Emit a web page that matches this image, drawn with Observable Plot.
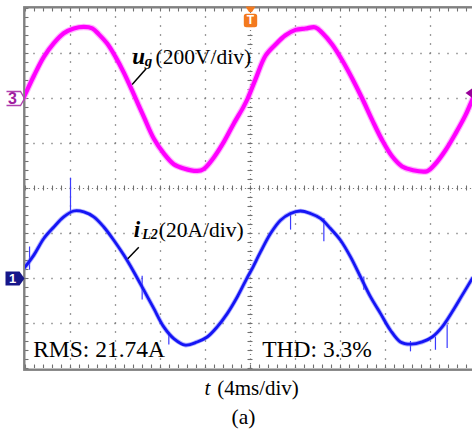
<!DOCTYPE html>
<html><head><meta charset="utf-8">
<script src="https://cdn.jsdelivr.net/npm/d3@7"></script>
<script src="https://cdn.jsdelivr.net/npm/@observablehq/plot@0.6"></script>
<style>html,body{margin:0;padding:0;background:#fff;} #chart svg{display:block;}</style>
</head><body><div id="chart"></div>
<script>
// ---- Scope settings ----
const msPerDiv = 4, voltPerDiv = 200, ampPerDiv = 20;
const ch3Offset = 2, ch1Offset = -2;      // channel zero levels, in divisions
const xMax = 39.733;                       // visible time span (ms)

// ---- Grid voltage u_g (ms, V) ----
const ugTime = [-0.2,0.74,1.63,2.52,3.40,4.29,5.18,5.93,6.52,7.26,8.0,8.74,9.63,10.52,11.4,12.29,13.18,14.07,15.26,15.85,16.74,17.63,18.52,19.4,19.75,20.44,21.33,22.22,23.11,24.0,24.89,25.78,26.37,27.26,28.15,29.04,29.93,30.82,31.7,32.6,33.48,34.37,35.7,36.44,37.33,38.22,39.11,39.7,40.0];
const ugVolt = [0,100,185,246,290,311,318,312,285,244,185,115,18,-82,-178,-244,-292,-311,-322,-313,-262,-193,-111,-35,0,85,190,240,281,305,311,316,292,240,170,89,0,-96,-185,-258,-302,-318,-323,-290,-230,-156,-74,-7,25];

// ---- Inductor current i_L2 (ms, A) ----
const iL2Time = [-0.15,0.74,1.63,2.52,3.40,4.29,5.18,6.07,6.96,7.85,8.74,9.63,10.52,11.40,12.29,13.18,14.22,15.26,16.15,17.04,17.93,18.82,19.71,20.15,20.89,21.78,22.67,23.56,24.44,25.33,26.22,27.11,28.0,28.89,29.78,30.67,31.56,32.44,33.33,34.22,35.26,36.15,37.04,37.93,38.82,39.71];
const iL2Amp = [4.4,10.4,17.8,22.9,27.4,30.0,29.6,27.4,22.9,17.0,10.4,2.9,-5.2,-13.3,-21.5,-26.7,-29.6,-28.2,-26.0,-21.5,-15.6,-8.2,0.4,4.4,11.8,20.0,25.9,28.9,30.0,28.9,26.7,22.2,17.0,9.6,0.7,-8.2,-15.6,-23.0,-28.2,-29.2,-28.2,-26.0,-21.5,-14.8,-7.4,0];

// ---- Switching spikes on i_L2 (ms, A from, A to) ----
const spikeTime = [0.36,4.0,10.37,12.74,23.56,26.52,30.07,34.22,36.44,37.48];
const spikeFrom = [14,29.6,1,-24,28.5,26.7,0.7,-28,-26,-20.7];
const spikeTo   = [3.7,44.6,-9.6,-29.6,21.5,16.3,-5.2,-32.6,-31.9,-31.1];

// ---- Texts ----
const rmsText = "RMS: 21.74A";
const thdText = "THD: 3.3%";
const ugUnit = "(200V/div)";
const iUnit = "(20A/div)";
const timeUnit = "(4ms/div)";
const caption = "(a)";
const triggerLevelV = 24;

// ---- Tables ----
const ugData = ugTime.map((t, i) => ({t, v: ugVolt[i]}));
const iData = iL2Time.map((t, i) => ({t, a: iL2Amp[i]}));
const spikes = spikeTime.map((t, i) => ({t, a1: spikeFrom[i], a2: spikeTo[i]}));

const pxX = 1 / 11.25, pxY = 1 / 45;  // one pixel in ms / in divisions
const majorX = d3.range(msPerDiv, xMax, msPerDiv).filter(v => v !== 20);
const majorY = [-3, -1, 1, 3, -2, 2];
const minorX = d3.range(0, xMax, msPerDiv / 5);
const minorY = d3.range(-4, 4.001, 0.2);

const serif = "Liberation Serif, Times New Roman, serif";
const sans = "Liberation Sans, Arial, sans-serif";

const openArrow = {draw(c){ c.moveTo(-19,-7); c.lineTo(-5,-7); c.lineTo(-1,0); c.lineTo(-5,7); c.lineTo(-19,7); }};
const fillArrow = {draw(c){ c.moveTo(-20,-7); c.lineTo(-6,-7); c.lineTo(-1,0); c.lineTo(-6,7); c.lineTo(-20,7); c.closePath(); }};
const leftTri = {draw(c){ c.moveTo(-7,0); c.lineTo(0,-5); c.lineTo(0,5); c.closePath(); }};
const trigSym = {draw(c){
  c.moveTo(-5,-2); c.lineTo(5,-2); c.lineTo(1.5,3.5); c.lineTo(-1.5,3.5); c.closePath();
  const x0=-6.7,x1=6.7,y0=5.3,y1=18.7,r=2.5;
  c.moveTo(x0+r,y0); c.lineTo(x1-r,y0); c.arcTo(x1,y0,x1,y0+r,r); c.lineTo(x1,y1-r);
  c.arcTo(x1,y1,x1-r,y1,r); c.lineTo(x0+r,y1); c.arcTo(x0,y1,x0,y1-r,r);
  c.lineTo(x0,y0+r); c.arcTo(x0,y0,x0+r,y0,r); c.closePath();
}};

const gridStyle = {stroke: "#7a7a7a", strokeWidth: 1.3, strokeDasharray: "1.3 7.7", strokeDashoffset: 0.65};

const chart = Plot.plot({
  width: 472, height: 432,
  marginLeft: 25, marginRight: 0, marginTop: 8, marginBottom: 64,
  x: {domain: [0, xMax], axis: null},
  y: {domain: [-4, 4], axis: null},
  style: {background: "white", overflow: "visible"},
  marks: [
    // dotted graticule
    Plot.ruleX(majorX, gridStyle),
    Plot.ruleY(majorY, gridStyle),
    Plot.ruleX([20], {stroke: "#7a7a7a", strokeWidth: 1.2, strokeDasharray: "1.2 3.3", strokeDashoffset: 0.6}),
    Plot.ruleY([0], {stroke: "#7a7a7a", strokeWidth: 1.2, strokeDasharray: "1.2 3.3", strokeDashoffset: 0.6}),
    // centre ticks
    Plot.ruleX(minorX, {x: d => d, y1: () => -2.5 * pxY, y2: () => 2.5 * pxY, stroke: "#707070", strokeWidth: 1.1}),
    Plot.ruleY(minorY, {y: d => d, x1: () => 20 - 2.5 * pxX, x2: () => 20 + 2.5 * pxX, stroke: "#707070", strokeWidth: 1.1}),
    // border ticks
    Plot.ruleY(minorY, {y: d => d, x1: () => 0, x2: () => 3.5 * pxX, stroke: "#707070", strokeWidth: 1.1}),
    Plot.ruleX(minorX, {x: d => d, y1: () => 4, y2: () => 4 - 3.5 * pxY, stroke: "#707070", strokeWidth: 1.1}),
    Plot.ruleX(minorX, {x: d => d, y1: () => -4, y2: () => -4 + 3.5 * pxY, stroke: "#707070", strokeWidth: 1.1}),
    Plot.frame({stroke: "#808080", strokeWidth: 2.4, inset: -1.2}),

    // u_g trace
    Plot.line(ugData, {x: "t", y: d => ch3Offset + d.v / voltPerDiv, stroke: "#ff80ff", strokeWidth: 6.5, strokeOpacity: 0.6, curve: "catmull-rom", clip: true}),
    Plot.line(ugData, {x: "t", y: d => ch3Offset + d.v / voltPerDiv, stroke: "#ff00ff", strokeWidth: 4.2, curve: "catmull-rom", clip: true}),

    // i_L2 trace
    Plot.ruleX(spikes, {x: "t", y1: d => ch1Offset + d.a1 / ampPerDiv, y2: d => ch1Offset + d.a2 / ampPerDiv, stroke: "#3a3aff", strokeWidth: 1.2, clip: true}),
    Plot.line(iData, {x: "t", y: d => ch1Offset + d.a / ampPerDiv, stroke: "#7070ff", strokeWidth: 4.6, strokeOpacity: 0.55, curve: "catmull-rom", clip: true}),
    Plot.line(iData, {x: "t", y: d => ch1Offset + d.a / ampPerDiv, stroke: "#1515f5", strokeWidth: 2.8, curve: "catmull-rom", clip: true}),

    // channel / trigger markers
    Plot.dot([0], {x: () => 0, y: () => ch3Offset, symbol: openArrow, fill: "none", stroke: "#b040b0", strokeWidth: 1.3, r: 5}),
    Plot.text([0], {x: () => -13 * pxX, y: () => ch3Offset, text: () => "3", fill: "#a020a0", fontSize: 16, fontWeight: 600, fontFamily: sans, textAnchor: "middle", lineAnchor: "middle"}),
    Plot.dot([0], {x: () => 0, y: () => ch1Offset, symbol: fillArrow, fill: "#16168a", stroke: "none", r: 5}),
    Plot.text([0], {x: () => -13 * pxX, y: () => ch1Offset, text: () => "1", fill: "white", fontSize: 13, fontWeight: "bold", fontFamily: sans, textAnchor: "middle", lineAnchor: "middle"}),
    Plot.dot([0], {x: () => 20, y: () => 4, symbol: trigSym, fill: "#f37a1f", stroke: "none", r: 5}),
    Plot.text([0], {x: () => 20, y: () => 4 - 12 * pxY, text: () => "T", fill: "white", fontSize: 12, fontWeight: "bold", fontFamily: sans, textAnchor: "middle", lineAnchor: "middle"}),
    Plot.dot([0], {x: () => xMax, y: () => ch3Offset + triggerLevelV / voltPerDiv, symbol: leftTri, fill: "#990099", stroke: "none", r: 5}),

    // leader lines
    Plot.link([0], {x1: () => 10.72, y1: () => 2.66, x2: () => 9.48, y2: () => 2.311, stroke: "black", strokeWidth: 1.5}),
    Plot.link([0], {x1: () => 10.07, y1: () => -1.304, x2: () => 9.09, y2: () => -1.562, stroke: "black", strokeWidth: 1.5}),

    // u_g label
    Plot.text([0], {x: () => 9.484, y: () => 2.771, text: () => "u", fontSize: 23, fontWeight: "bold", fontStyle: "italic", fontFamily: serif, textAnchor: "start", lineAnchor: "bottom"}),
    Plot.text([0], {x: () => 9.484, y: () => 2.771, text: () => "g", dx: 12.5, dy: 2, fontSize: 15, fontWeight: "bold", fontStyle: "italic", fontFamily: serif, textAnchor: "start", lineAnchor: "bottom"}),
    Plot.text([0], {x: () => 9.484, y: () => 2.771, text: () => ugUnit, dx: 23.3, fontSize: 21.5, fontFamily: serif, textAnchor: "start", lineAnchor: "bottom"}),

    // i_L2 label
    Plot.text([0], {x: () => 9.627, y: () => -1.082, text: () => "i", fontSize: 23, fontWeight: "bold", fontStyle: "italic", fontFamily: serif, textAnchor: "start", lineAnchor: "bottom"}),
    Plot.text([0], {x: () => 9.627, y: () => -1.082, text: () => "L2", dx: 8.4, dy: 2, fontSize: 14, fontWeight: "bold", fontStyle: "italic", fontFamily: serif, textAnchor: "start", lineAnchor: "bottom"}),
    Plot.text([0], {x: () => 9.627, y: () => -1.082, text: () => iUnit, dx: 25, fontSize: 21.5, fontFamily: serif, textAnchor: "start", lineAnchor: "bottom"}),

    // measurements
    Plot.text([0], {x: () => 0.684, y: () => -3.749, text: () => rmsText, fontSize: 23.5, fontFamily: serif, textAnchor: "start", lineAnchor: "bottom"}),
    Plot.text([0], {x: () => 21.04, y: () => -3.749, text: () => thdText, fontSize: 23.5, fontFamily: serif, textAnchor: "start", lineAnchor: "bottom"}),

    // time axis label and caption
    Plot.text([0], {x: () => 15.91, y: () => -4.578, text: () => "t", fontSize: 21, fontStyle: "italic", fontFamily: serif, textAnchor: "start", lineAnchor: "bottom"}),
    Plot.text([0], {x: () => 15.91, y: () => -4.578, text: () => timeUnit, dx: 12.7, fontSize: 21, fontFamily: serif, textAnchor: "start", lineAnchor: "bottom"}),
    Plot.text([0], {x: () => 19.38, y: () => -5.244, text: () => caption, fontSize: 21.5, fontFamily: serif, textAnchor: "middle", lineAnchor: "bottom"})
  ]
});
document.getElementById("chart").appendChild(chart);
</script>
</body></html>
